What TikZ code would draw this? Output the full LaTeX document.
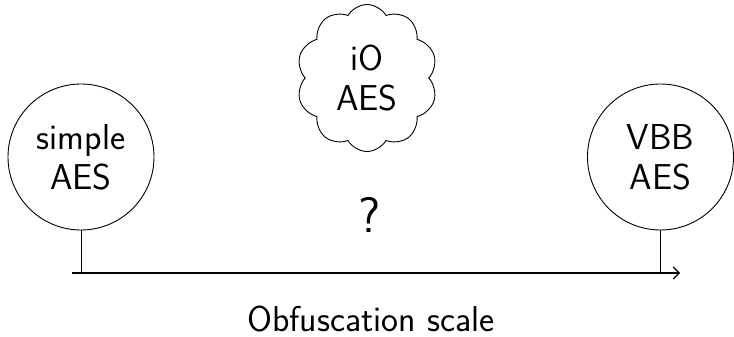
\documentclass[tikz,border=0pt]{standalone}
\usetikzlibrary{shapes.symbols,arrows.meta}
\begin{document}
\begin{tikzpicture}[x=1pt,y=1pt,
  lbl/.style={font=\fontsize{36}{40}\selectfont\sffamily,align=center},
  bubble/.style={draw,circle,line width=0.9pt,minimum size=146pt,inner sep=0pt,lbl},
  thought/.style={draw,cloud,cloud puffs=10,cloud puff arc=120,line width=0.9pt,minimum width=141pt,minimum height=147pt,inner sep=0pt,lbl},
  stem/.style={line width=0.9pt},
  axis/.style={line width=1.6pt,-{Straight Barb[length=6pt,width=12pt,line width=1.2pt]}}]
\useasboundingbox (0,0) rectangle (734,337);
\node[bubble] (simple) at (81,180) {simple\\AES};
\node[bubble] (vbb) at (660.5,180) {VBB\\AES};
\node[thought] (io) at (367,259) {iO\\AES};
\node[font=\fontsize{50}{54}\selectfont\sffamily] (q) at (370,122) {?};
\coordinate (a0) at (72,64);
\coordinate (a1) at (680,64);
\draw[axis] (a0) -- (a1);
\draw[stem] (simple.south) -- (simple.south |- a0);
\draw[stem] (vbb.south) -- (vbb.south |- a0);
\node[lbl,inner sep=0pt,anchor=base] (scale) at (371,5) {Obfuscation scale};
\end{tikzpicture}
\end{document}
